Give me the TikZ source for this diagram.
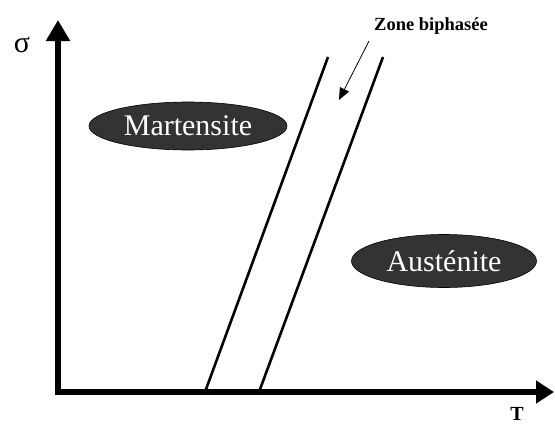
\documentclass[tikz,border=0pt]{standalone}
\usepackage{fontspec}
\setmainfont{Liberation Serif}
\usetikzlibrary{arrows.meta,shapes.geometric}

\tikzset{
  axe/.style={line width=6.5pt},
  phase/.style={ellipse,draw=black,line width=.6pt,fill=black!80,text=white,
    inner sep=0pt,font=\fontsize{30}{30}\selectfont},
  frontiere/.style={line width=2.6pt}
}

\begin{document}
\begin{tikzpicture}[x=1pt,y=-1pt]  % ------ Diagramme contrainte - temperature -----------
    \useasboundingbox (0,0) rectangle (555,426);
    \coordinate (O) at (58,392);
    \coordinate (Ys) at (58,20);
    \coordinate (Xt) at (554,392);
    \coordinate (A1) at (205,392);
    \coordinate (B1) at (328,57);
    \coordinate (A2) at (259,392);
    \coordinate (B2) at (383,57);
    \coordinate (F1) at (369,41);
    \coordinate (F2) at (339,100);
    \draw[axe,-{Triangle[length=21pt,width=23pt]}] ([yshift=3.25pt]O) -- (Ys);
    \draw[axe,-{Triangle[length=18pt,width=22pt]}] ([xshift=-3.25pt]O) -- (Xt);
    \node (sigma) at (22,45) {\fontsize{30}{30}\selectfont σ};
    \node[inner sep=0pt] (temp) at (517,414) {\fontsize{20}{20}\selectfont\bfseries T};
    \draw[frontiere] (A1) -- (B1) ;
    \draw[frontiere] (A2) -- (B2) ;
    \node (zone) at (431,26) {\fontsize{18.5}{19}\selectfont\bfseries Zone biphasée};
    \draw[line width=.8pt,-{Triangle[length=12pt,width=10pt]}] (F1) -- (F2) ; % vers la zone
    \node[phase,minimum width=198pt,minimum height=48pt] (mart) at (188,126) {Martensite};
    \node[phase,minimum width=185pt,minimum height=53pt] (aust) at (444,261) {Austénite};
\end{tikzpicture}
\end{document}
